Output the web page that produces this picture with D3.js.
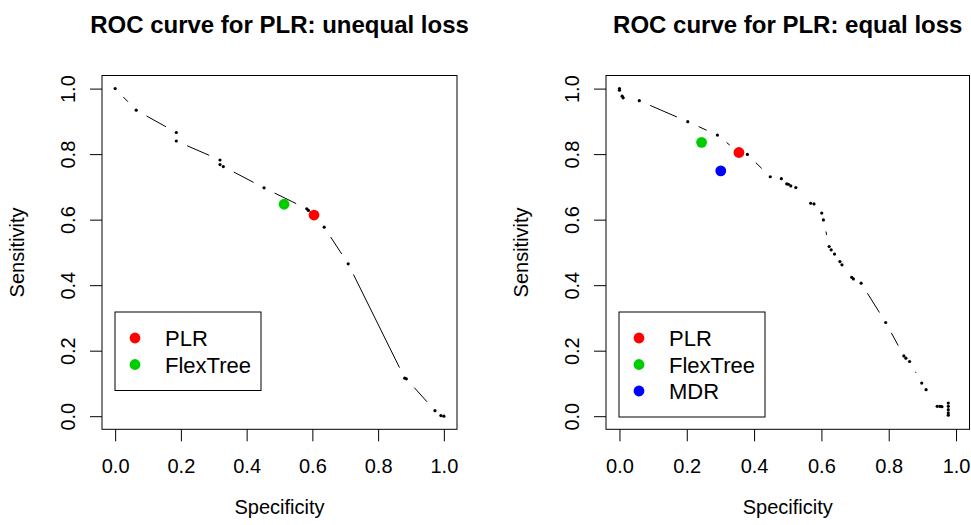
<!DOCTYPE html>
<html>
<head>
<meta charset="utf-8">
<script src="https://cdn.jsdelivr.net/npm/d3@7"></script>
<style>
  body { margin: 0; background: #fff; }
  svg { display: block; }
  text { font-family: "Liberation Sans", Arial, Helvetica, sans-serif; fill: #000; }
</style>
</head>
<body>
<svg id="chart" width="971" height="525"></svg>
<script>
// Axis ticks shared by both panels
const tickValues = [0, 0.2, 0.4, 0.6, 0.8, 1.0];

// ROC curve points, unequal loss
const unequalSpec = [0.000, 0.064, 0.186, 0.186, 0.319, 0.319, 0.329, 0.453, 0.583, 0.588,
                     0.605, 0.636, 0.709, 0.881, 0.886, 0.973, 0.991, 1.000];
const unequalSens = [1.000, 0.934, 0.866, 0.840, 0.782, 0.768, 0.762, 0.697, 0.633, 0.628,
                     0.614, 0.577, 0.465, 0.116, 0.114, 0.017, 0.002, 0.000];

// ROC curve points, equal loss
const equalSpec = [0.000, 0.000, 0.008, 0.011, 0.059, 0.203, 0.291, 0.355, 0.380, 0.448,
                   0.481, 0.497, 0.502, 0.509, 0.524, 0.568, 0.578, 0.601, 0.606, 0.623,
                   0.629, 0.639, 0.655, 0.661, 0.690, 0.695, 0.718, 0.791, 0.845, 0.851,
                   0.862, 0.898, 0.911, 0.944, 0.952, 0.958, 0.977, 0.977, 0.977, 0.977, 0.977];
const equalSens = [1.000, 0.995, 0.977, 0.972, 0.963, 0.899, 0.858, 0.805, 0.799, 0.731,
                   0.725, 0.709, 0.708, 0.703, 0.698, 0.650, 0.648, 0.620, 0.599, 0.518,
                   0.508, 0.495, 0.472, 0.462, 0.424, 0.419, 0.406, 0.286, 0.184, 0.177,
                   0.167, 0.101, 0.081, 0.030, 0.030, 0.029, 0.040, 0.030, 0.020, 0.010, 0.003];

// Highlighted methods
const unequalMethods = ["PLR", "FlexTree"];
const unequalMethodSpec = [0.605, 0.514];
const unequalMethodSens = [0.614, 0.647];

const equalMethods = ["PLR", "FlexTree", "MDR"];
const equalMethodSpec = [0.355, 0.244, 0.301];
const equalMethodSens = [0.805, 0.836, 0.749];

const methodColors = { "PLR": "#FF0000", "FlexTree": "#00CD00", "MDR": "#0000FF" };

const svg = d3.select("#chart");

function drawPanel(cfg) {
  const { left, right, top, bottom, title, spec, sens, methods, mSpec, mSens } = cfg;
  const g = svg.append("g");

  // R-style axis range: data range padded by 4% on each side
  const x = d3.scaleLinear().domain([-0.04, 1.04]).range([left, right]);
  const y = d3.scaleLinear().domain([-0.04, 1.04]).range([bottom, top]);

  // Title
  g.append("text")
    .attr("x", (left + right) / 2).attr("y", 32.5)
    .attr("text-anchor", "middle")
    .style("font-size", "24px").style("font-weight", "bold")
    .text(title);

  // Curve: line segments with gaps around each point (type "b")
  const gap = 11.8;
  const pts = spec.map((s, i) => [x(s), y(sens[i])]);
  const segs = [];
  for (let i = 1; i < pts.length; i++) {
    const [x0, y0] = pts[i - 1], [x1, y1] = pts[i];
    const dx = x1 - x0, dy = y1 - y0, len = Math.hypot(dx, dy);
    if (len > 2 * gap) {
      const f = gap / len;
      segs.push([x0 + f * dx, y0 + f * dy, x1 - f * dx, y1 - f * dy]);
    }
  }
  g.append("g").selectAll("line").data(segs).join("line")
    .attr("x1", d => d[0]).attr("y1", d => d[1])
    .attr("x2", d => d[2]).attr("y2", d => d[3])
    .attr("stroke", "#000").attr("stroke-width", 1);

  g.append("g").selectAll("circle").data(pts).join("circle")
    .attr("cx", d => d[0]).attr("cy", d => d[1])
    .attr("r", 1.6).attr("fill", "#000");

  // Method markers
  g.append("g").selectAll("circle").data(methods).join("circle")
    .attr("cx", (d, i) => x(mSpec[i])).attr("cy", (d, i) => y(mSens[i]))
    .attr("r", 5.4).attr("fill", d => methodColors[d]);

  // Axes
  const xAxis = g.append("g").attr("transform", `translate(0,${bottom})`)
    .call(d3.axisBottom(x).tickValues(tickValues).tickFormat(d3.format(".1f")).tickSize(12));
  xAxis.select(".domain").remove();
  xAxis.selectAll("line").attr("stroke", "#000");
  xAxis.selectAll("text").attr("y", 44).attr("dy", 0)
    .style("font-size", "20px").style("font-family", "'Liberation Sans', Arial, sans-serif");

  const yAxis = g.append("g").attr("transform", `translate(${left},0)`)
    .call(d3.axisLeft(y).tickValues(tickValues).tickFormat(d3.format(".1f")).tickSize(12));
  yAxis.select(".domain").remove();
  yAxis.selectAll("line").attr("stroke", "#000");
  yAxis.selectAll("text")
    .attr("transform", "rotate(-90)")
    .attr("x", 0).attr("y", -27).attr("dy", 0)
    .attr("text-anchor", "middle")
    .style("font-size", "20px").style("font-family", "'Liberation Sans', Arial, sans-serif");

  // Plot frame
  g.append("rect")
    .attr("x", left).attr("y", top)
    .attr("width", right - left).attr("height", bottom - top)
    .attr("fill", "none").attr("stroke", "#000").attr("stroke-width", 1);

  // Axis titles
  g.append("text")
    .attr("x", (left + right) / 2).attr("y", 514)
    .attr("text-anchor", "middle").style("font-size", "20px")
    .text("Specificity");
  g.append("text")
    .attr("transform", `translate(${left - 78},${(top + bottom) / 2}) rotate(-90)`)
    .attr("text-anchor", "middle").style("font-size", "20px")
    .text("Sensitivity");

  // Legend
  const lx = left + 13, ly = top + 236.5, rowH = 26.5;
  const lw = 146, lh = rowH * methods.length + 25.5;
  const leg = g.append("g");
  leg.append("rect")
    .attr("x", lx).attr("y", ly).attr("width", lw).attr("height", lh)
    .attr("fill", "#fff").attr("stroke", "#000").attr("stroke-width", 1);
  const rows = leg.selectAll("g.row").data(methods).join("g")
    .attr("class", "row")
    .attr("transform", (d, i) => `translate(${lx},${ly + 26 + i * rowH})`);
  rows.append("circle").attr("cx", 20).attr("cy", 0).attr("r", 5.4)
    .attr("fill", d => methodColors[d]);
  rows.append("text").attr("x", 50).attr("y", 8)
    .style("font-size", "22px").text(d => d);
}

drawPanel({
  left: 102, right: 457, top: 75.5, bottom: 429.3,
  title: "ROC curve for PLR: unequal loss",
  spec: unequalSpec, sens: unequalSens,
  methods: unequalMethods, mSpec: unequalMethodSpec, mSens: unequalMethodSens
});

drawPanel({
  left: 606, right: 969.5, top: 75.5, bottom: 429.3,
  title: "ROC curve for PLR: equal loss",
  spec: equalSpec, sens: equalSens,
  methods: equalMethods, mSpec: equalMethodSpec, mSens: equalMethodSens
});
</script>
</body>
</html>
